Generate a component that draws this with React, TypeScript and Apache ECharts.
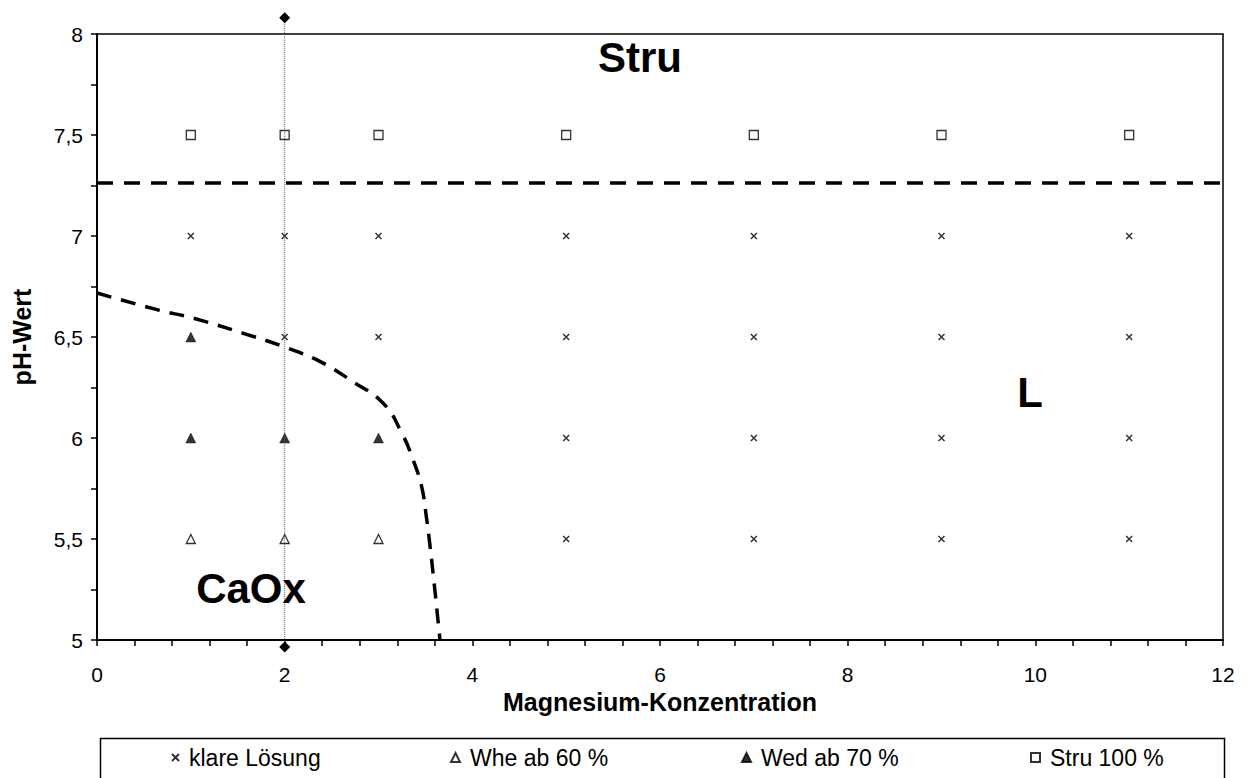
import React, { useEffect, useRef } from "react";
import * as echarts from "echarts";

const xTickLabels = ["0", "2", "4", "6", "8", "10", "12"];
const yTickLabels = ["5", "5,5", "6", "6,5", "7", "7,5", "8"];

const klareLoesung: [number, number][] = [
  [1, 7], [2, 7], [2, 6.5], [3, 7], [3, 6.5],
  [5, 7], [5, 6.5], [5, 6], [5, 5.5],
  [7, 7], [7, 6.5], [7, 6], [7, 5.5],
  [9, 7], [9, 6.5], [9, 6], [9, 5.5],
  [11, 7], [11, 6.5], [11, 6], [11, 5.5],
];
const wheAb60: [number, number][] = [[1, 5.5], [2, 5.5], [3, 5.5]];
const wedAb70: [number, number][] = [[1, 6.5], [1, 6], [2, 6], [3, 6]];
const stru100: [number, number][] = [[1, 7.5], [2, 7.5], [3, 7.5], [5, 7.5], [7, 7.5], [9, 7.5], [11, 7.5]];
const struBoundary: [number, number][] = [[0, 7.262], [12, 7.262]];
const caoxBoundary: [number, number][] = [
  [0, 6.718], [0.65, 6.634], [1.03, 6.593], [1.56, 6.518], [1.99, 6.452],
  [2.38, 6.378], [2.7, 6.287], [3.05, 6.172], [3.25, 6.023], [3.37, 5.89],
  [3.46, 5.759], [3.51, 5.61], [3.55, 5.462], [3.6, 5.25], [3.655, 5.0],
];
const markerLine: [number, number][] = [[2, 8.08], [2, 4.965]];

const legendNames = ["klare Lösung", "Whe ab 60 %", "Wed ab 70 %", "Stru 100 %"];
const regionLabels = [
  { text: "Stru", x: 640, y: 57 },
  { text: "L", x: 1030, y: 392 },
  { text: "CaOx", x: 251, y: 588 },
];

const FONT = "'Liberation Sans', Arial, sans-serif";
const crossPath = "path://M0,0L10,10M10,0L0,10";

export default function App() {
  const ref = useRef<HTMLDivElement>(null);
  useEffect(() => {
    if (!ref.current) return;
    const chart = echarts.init(ref.current, undefined, { renderer: "svg" });
    const legendLefts = [166, 445, 736, 1025];
    const legendIcon = [7, 9, 9, 9];
    chart.setOption({
      animation: false,
      backgroundColor: "#ffffff",
      textStyle: { fontFamily: FONT, color: "#000" },
      grid: {
        left: 97, right: 25, top: 34, bottom: 138,
        show: true, borderColor: "#000", borderWidth: 1.5, backgroundColor: "transparent",
      },
      xAxis: {
        type: "value", min: 0, max: 12, interval: 2,
        name: "Magnesium-Konzentration", nameLocation: "middle", nameGap: 49,
        nameTextStyle: { fontFamily: FONT, fontWeight: "bold", fontSize: 25, color: "#000" },
        axisLine: { lineStyle: { color: "#000", width: 2 } },
        axisTick: { show: true, length: 6, lineStyle: { color: "#000", width: 1.5 } },
        minorTick: { show: true, splitNumber: 5, length: 6, lineStyle: { color: "#000", width: 1.5 } },
        splitLine: { show: false },
        axisLabel: { fontSize: 21, color: "#000", margin: 24, fontFamily: FONT,
          formatter: (v: number) => xTickLabels[Math.round(v / 2)] ?? String(v) },
      },
      yAxis: {
        type: "value", min: 5, max: 8, interval: 0.5,
        name: "pH-Wert", nameLocation: "middle", nameGap: 63, nameRotate: 90,
        nameTextStyle: { fontFamily: FONT, fontWeight: "bold", fontSize: 25, color: "#000" },
        axisLine: { show: true, lineStyle: { color: "#000", width: 2 } },
        axisTick: { show: true, length: 6, lineStyle: { color: "#000", width: 1.5 } },
        minorTick: { show: true, splitNumber: 2, length: 6, lineStyle: { color: "#000", width: 1.5 } },
        splitLine: { show: false },
        axisLabel: { fontSize: 21, color: "#000", margin: 14, fontFamily: FONT,
          formatter: (v: number) => yTickLabels[Math.round((v - 5) / 0.5)] ?? String(v) },
      },
      legend: legendNames.map((n, i) => ({
        data: [n], left: legendLefts[i], top: 741, orient: "horizontal",
        itemWidth: legendIcon[i], itemHeight: legendIcon[i], itemGap: 6,
        textStyle: { fontSize: 23, color: "#000", fontFamily: FONT, padding: [0, 0, 0, 5] },
        selectedMode: false,
      })),
      series: [
        {
          name: "Grenze Stru", type: "line", data: struBoundary, symbol: "none",
          lineStyle: { color: "#000", width: 3.5, type: [16, 11] }, silent: true,
        },
        {
          name: "Grenze CaOx", type: "line", data: caoxBoundary, symbol: "none", smooth: 0.45,
          lineStyle: { color: "#000", width: 3.5, type: [15, 10] }, silent: true,
        },
        {
          name: "Marker", type: "line", data: markerLine, clip: false,
          symbol: "diamond", symbolSize: 11, itemStyle: { color: "#000" },
          lineStyle: { color: "#555", width: 1, type: [1, 1] }, silent: true,
        },
        {
          name: legendNames[0], type: "scatter", data: klareLoesung, symbol: crossPath, symbolSize: 6,
          itemStyle: { color: "#000", borderColor: "#000", borderWidth: 1.5 },
        },
        {
          name: legendNames[1], type: "scatter", data: wheAb60, symbol: "triangle", symbolSize: 9,
          itemStyle: { color: "#fff", borderColor: "#000", borderWidth: 1.3 },
        },
        {
          name: legendNames[2], type: "scatter", data: wedAb70, symbol: "triangle", symbolSize: 10,
          itemStyle: { color: "#000", borderColor: "#000", borderWidth: 0.5 },
        },
        {
          name: legendNames[3], type: "scatter", data: stru100, symbol: "rect", symbolSize: 9,
          itemStyle: { color: "#fff", borderColor: "#000", borderWidth: 1.3 },
        },
      ],
      graphic: [
        {
          type: "rect", left: 98, top: 736, z: 0,
          shape: { x: 0, y: 0, width: 1124, height: 50 },
          style: { fill: "none", stroke: "#000", lineWidth: 1.5 },
        },
        ...regionLabels.map((l) => ({
          type: "text", x: l.x, y: l.y, z: 10,
          style: {
            text: l.text, fontSize: 42, fontWeight: "bold", fontFamily: FONT,
            fill: "#000", align: "center", verticalAlign: "middle",
          },
        })),
      ],
    });
    return () => chart.dispose();
  }, []);
  return <div ref={ref} style={{ width: 1248, height: 778, position: "absolute", left: 0, top: 0 }} />;
}
